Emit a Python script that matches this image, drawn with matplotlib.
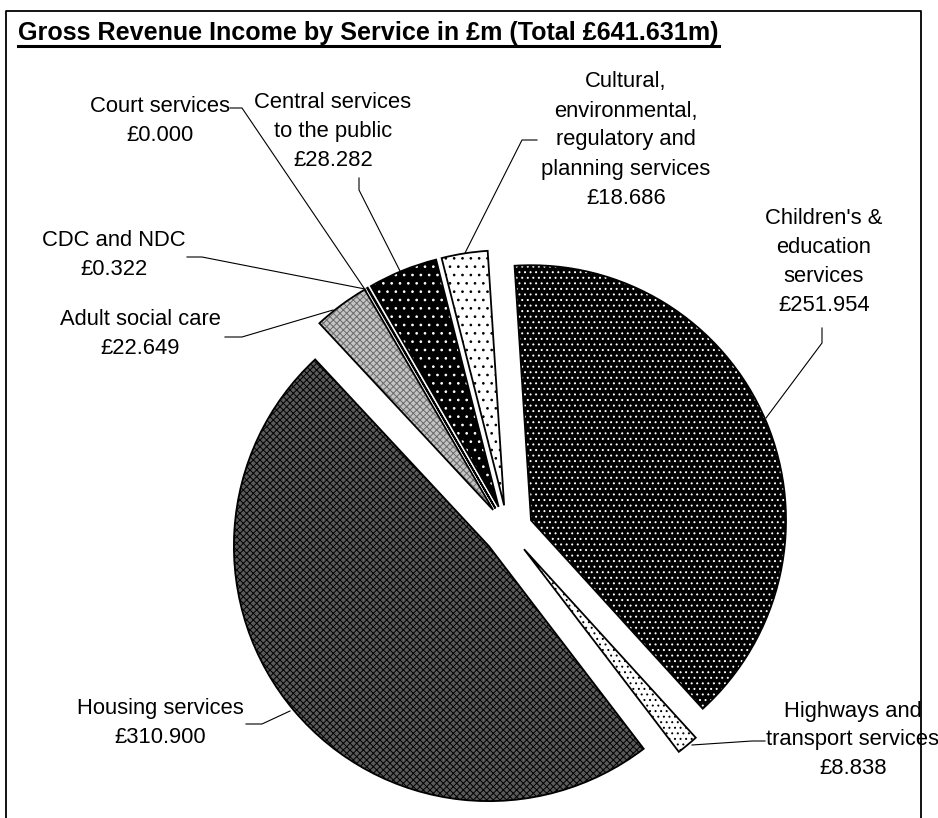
import matplotlib
matplotlib.use("Agg")
import matplotlib.pyplot as plt
from matplotlib.lines import Line2D

plt.rcParams["font.family"] = ["Liberation Sans", "DejaVu Sans"]
plt.rcParams["hatch.linewidth"] = 0.7

# Gross revenue income by service, £m
services = [
    "Children's &\neducation\nservices",
    "Highways and\ntransport services",
    "Housing services",
    "Adult social care",
    "CDC and NDC",
    "Court services",
    "Central services\nto the public",
    "Cultural,\nenvironmental,\nregulatory and\nplanning services",
]
income = [251.954, 8.838, 310.900, 22.649, 0.322, 0.000, 28.282, 18.686]
title = "Gross Revenue Income by Service in £m (Total £641.631m)"

# fills: face colour, hatch colour, hatch pattern
faces = ["black", "white", "#5a5a5a", "#c4c4c4", "#c4c4c4", "white", "black", "white"]
hatch_cols = ["white", "black", "black", "#6a6a6a", "#6a6a6a", "black", "white", "black"]
hatches = ["...", "...", "xxxxx", "xxxxx", "xxxxx", "", "..", ".."]

W, H = 938, 818
fig = plt.figure(figsize=(W / 100, H / 100), dpi=100)
ax = fig.add_axes([0, 0, 1, 1])


def px(x, y):
    """pixel position (origin top-left) -> data coordinates"""
    return x, H - y


center = px(508, 530)
R = 255
gap = 25
common = dict(startangle=93.7, counterclock=False, radius=R, center=center,
              explode=[gap] * len(income), normalize=True)

fills, _ = ax.pie(income, colors=faces, hatch=hatches,
                  wedgeprops=dict(linewidth=0), **common)
for w, hc, v in zip(fills, hatch_cols, income):
    w.set_edgecolor(hc)
    if v == 0:
        w.set_visible(False)

outlines, _ = ax.pie(income, wedgeprops=dict(fill=False, edgecolor="black",
                                             linewidth=1.3), **common)
for w, v in zip(outlines, income):
    if v == 0:
        w.set_visible(False)

ax.set_xlim(0, W)
ax.set_ylim(0, H)
ax.set_aspect("equal")
ax.axis("off")

# label blocks (centre of text) and leader lines, in pixels
label_pos = [(824, 262), (853, 740), (160, 723), (140, 334),
             (114, 255), (160, 121), (333, 131), (626, 140)]
leaders = [
    [(822, 328), (822, 343), (766, 418)],
    [(765, 741), (752, 741), (692, 745)],
    [(246, 724), (262, 724), (290, 711)],
    [(225, 337), (242, 337), (333, 310)],
    [(187, 257), (202, 257), (365, 289)],
    [(230, 108), (242, 108), (366, 291)],
    [(359, 178), (359, 190), (400, 271)],
    [(537, 140), (522, 140), (465, 253)],
]

for name, v, (lx, ly), pts in zip(services, income, label_pos, leaders):
    ax.text(*px(lx, ly), f"{name}\n£{v:.3f}", ha="center", va="center",
            fontsize=15.8, linespacing=1.5, color="black")
    xs = [p[0] for p in pts]
    ys = [H - p[1] for p in pts]
    ax.plot(xs, ys, color="black", lw=0.8)

# title with underline
t = fig.text(18 / W, 1 - 33 / H, title, ha="left", va="center",
             fontsize=17, fontweight="bold")
fig.canvas.draw()
bb = t.get_window_extent()
t.set_fontsize(17 * 702 / bb.width)
fig.canvas.draw()
bb = t.get_window_extent()
uy = (H - 46) / H
fig.add_artist(Line2D([bb.x0 / W, bb.x1 / W], [uy, uy], color="black", lw=2.2))

# frame around the chart area
fx0, fx1, fy0 = 6 / W, 921 / W, 1 - 11 / H
fig.add_artist(Line2D([fx0, fx0, fx1, fx1], [0, fy0, fy0, 0], color="black", lw=1.3))

fig.savefig("out.png", dpi=100)
